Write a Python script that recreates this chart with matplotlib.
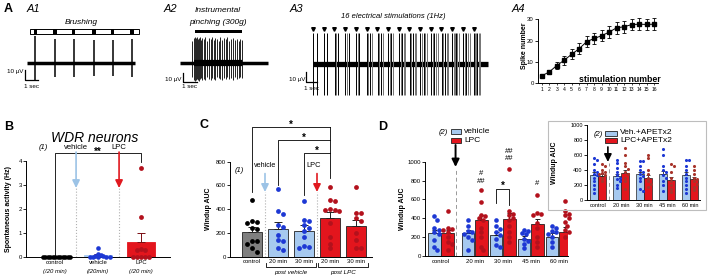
import numpy as np
import matplotlib
matplotlib.use('Agg')
import matplotlib.pyplot as plt
from matplotlib.patches import Rectangle

plt.rcParams['font.family'] = ['Liberation Sans', 'DejaVu Sans']
plt.rcParams['axes.linewidth'] = 0.7

W, H = 708, 278

# ---------------- data ----------------
# A1 brushing: spike times (s), peak amplitudes (uV)
a1_t = [0.62, 2.15, 3.6, 5.15, 6.6, 8.08]
a1_up = [27, 24, 24, 23, 23, 24]
a1_dn = [-17, -14, -14, -13, -13, -14]

# A2 instrumental pinching
a2_t = [0.95, 1.1, 1.17, 1.24, 1.3, 1.37, 1.45, 1.53, 1.62, 1.72,
        1.82, 1.95, 2.08, 2.2, 2.35, 2.48, 2.6, 2.72, 2.85, 2.97,
        3.1, 3.22, 3.38, 3.5, 3.62, 3.76, 3.9, 4.05, 4.2, 4.35,
        4.5, 4.62, 4.76]
a2_up = [22, 25, 26, 25, 26, 24, 25, 26, 23, 25,
         24, 26, 22, 25, 24, 26, 23, 25, 24, 22,
         26, 23, 25, 24, 26, 22, 24, 25, 23, 24,
         22, 24, 23]
a2_dn = [-14, -17, -18, -17, -16, -17, -18, -16, -15, -17,
         -16, -17, -14, -16, -17, -15, -16, -17, -14, -15,
         -16, -17, -15, -16, -14, -16, -15, -17, -14, -16,
         -15, -14, -15]

# A3 16 stimulations at 1 Hz
a3_stim = list(range(16))
a3_nspk = [2, 2, 3, 3, 3, 4, 4, 4, 5, 5, 5, 5, 5, 6, 6, 6]
a3_lat = [0.03, 0.33, 0.18, 0.5, 0.64, 0.25]

# A4 wind-up curve
a4_stim = list(range(1, 17))
a4_mean = [3.5, 5.3, 8.3, 10.8, 13.6, 16.2, 19.5, 21.0, 22.3, 24.0, 26.0, 26.5, 27.5, 27.7, 27.6, 27.7]
a4_sem = [0.7, 0.9, 1.6, 2.0, 2.4, 2.6, 2.6, 2.6, 2.6, 2.7, 2.7, 2.7, 2.7, 2.7, 2.7, 2.7]

# B spontaneous activity (Hz)
b_groups = ['control', 'vehicle', 'LPC']
b_sub = ['(/20 min)', '(/20min)', '(/20 min)']
b_mean = [0.0, 0.06, 0.62]
b_sem = [0.0, 0.04, 0.38]
b_ctrl = [0, 0, 0, 0, 0, 0, 0, 0, 0, 0, 0, 0]
b_veh = [0.35, 0.12, 0.08, 0.05, 0.03, 0, 0, 0, 0, 0]
b_lpc = [3.7, 1.65, 0.32, 0.3, 0.3, 0, 0, 0, 0, 0]

# C windup AUC
c_labels = ['control', '20 min', '30 min', '20 min', '30 min']
c_mean = [210, 237, 220, 330, 257]
c_sem = [38, 55, 45, 50, 52]
c_ctrl = [480, 300, 290, 280, 240, 230, 130, 130, 110, 70, 40]
c_veh20 = [570, 385, 360, 270, 250, 185, 140, 130, 70, 55]
c_veh30 = [470, 310, 300, 270, 240, 220, 170, 90, 80, 70]
c_lpc20 = [590, 480, 470, 400, 395, 390, 385, 280, 170, 110, 70]
c_lpc30 = [590, 370, 365, 330, 300, 200, 140, 75, 70]

# D windup AUC, vehicle vs LPC
d_labels = ['control', '20 min', '30 min', '45 min', '60 min']
d_veh_mean = [240, 240, 220, 185, 205]
d_veh_sem = [35, 35, 35, 30, 35]
d_lpc_mean = [240, 385, 395, 335, 258]
d_lpc_sem = [35, 50, 65, 55, 50]
d_veh_pts = [[420, 380, 300, 280, 250, 230, 170, 100, 60],
             [380, 320, 260, 250, 230, 200, 170, 60],
             [380, 320, 290, 250, 220, 180, 120, 100],
             [280, 270, 240, 230, 180, 160, 130, 80],
             [320, 300, 260, 250, 230, 200, 150, 100]]
d_lpc_pts = [[480, 300, 290, 280, 250, 200, 150, 130, 60],
             [700, 570, 440, 420, 400, 380, 300, 250, 200, 100, 60],
             [920, 480, 450, 430, 400, 380, 320, 250, 200, 150],
             [650, 460, 450, 440, 350, 300, 200, 150, 100],
             [580, 480, 450, 430, 400, 360, 320, 280, 250, 200]]

# D inset, with APETx2
e_veh_mean = [333, 320, 342, 342, 333]
e_veh_sem = [35, 30, 35, 40, 35]
e_lpc_mean = [320, 355, 298, 267, 280]
e_lpc_sem = [25, 45, 30, 35, 30]
e_veh_pts = [[560, 530, 480, 400, 380, 350, 330, 300, 260, 200, 150, 100],
             [540, 500, 430, 380, 330, 300, 280, 250, 200, 160],
             [520, 520, 450, 400, 380, 350, 320, 300, 260, 150, 120],
             [680, 600, 450, 400, 370, 330, 300, 250, 200, 120],
             [540, 530, 450, 400, 350, 300, 250, 200, 150, 100]]
e_lpc_pts = [[480, 450, 400, 380, 360, 350, 330, 300, 250],
             [700, 600, 500, 450, 420, 380, 350, 300, 250, 150],
             [600, 560, 400, 350, 300, 250, 220, 180],
             [480, 450, 370, 300, 250, 200, 150, 110],
             [450, 400, 350, 300, 280, 250, 220, 180, 130]]

BLUE_BAR, BLUE_DOT = '#a6c9ef', '#1d38d4'
RED_BAR, RED_DOT = '#e3151d', '#b3111c'

fig = plt.figure(figsize=(W / 100, H / 100), dpi=100)


def place(xlim, ylim, x0, sx, y0, sy):
    # x0/y0: pixel position of data 0, sx/sy: pixels per data unit
    left, right = x0 + xlim[0] * sx, x0 + xlim[1] * sx
    top, bottom = y0 - ylim[1] * sy, y0 - ylim[0] * sy
    ax = fig.add_axes([left / W, 1 - bottom / H, (right - left) / W, (bottom - top) / H])
    ax.set_xlim(xlim)
    ax.set_ylim(ylim)
    return ax


def ftext(x, y, s, **kw):
    fig.text(x / W, 1 - y / H, s, **kw)


def frect(x0, y0, x1, y1, **kw):
    fig.add_artist(Rectangle((x0 / W, 1 - y1 / H), (x1 - x0) / W, (y1 - y0) / H,
                             transform=fig.transFigure, **kw))


def style(ax, yticks, fs=4.3):
    for s in ['top', 'right']:
        ax.spines[s].set_visible(False)
    ax.spines['left'].set_bounds(yticks[0], yticks[-1])
    ax.set_yticks(yticks)
    ax.tick_params(axis='y', labelsize=fs, length=2, width=0.6, pad=1)
    ax.tick_params(axis='x', length=0, labelsize=fs, pad=2)


def swarm(vals, sx, sy, d):
    pts, offs = [], []
    for v in vals:
        y = v * sy
        for k in range(40):
            x = ((k + 1) // 2) * (1 if k % 2 else -1) * d * 0.5
            if all((x - px) ** 2 + (y - py) ** 2 >= d * d for px, py in pts):
                break
        pts.append((x, y))
        offs.append(x / sx)
    return np.array(offs)


def dots(ax, x, vals, color, sx, sy, d, s):
    ax.scatter(x + swarm(vals, sx, sy, d), vals, s=s, color=color, lw=0, zorder=4, clip_on=False)


def arrow(ax, x, y0, y1, color, lw=1.2):
    ax.annotate('', xy=(x, y1), xytext=(x, y0), annotation_clip=False,
                arrowprops=dict(arrowstyle='-|>,head_width=0.22,head_length=0.45',
                                color=color, lw=lw, shrinkA=0, shrinkB=0))


def scalebar(ax, x, y, w, h, lab_x, lab_y, sec_x, sec_y):
    ax.plot([x, x, x + w], [y + h, y, y], color='k', lw=0.9, clip_on=False)
    ax.text(lab_x, lab_y, '10 µV', ha='right', va='center', fontsize=4.5)
    ax.text(sec_x, sec_y, '1 sec', ha='center', va='center', fontsize=4.5)


# ---------------- A1 ----------------
axA1 = place((-27 / 13, 113 / 13), (-37, 63), 27, 13, 63, 1.0)
axA1.axis('off')
axA1.plot([0, 8.3], [0, 0], color='k', lw=2.5, solid_capstyle='butt')
axA1.vlines(a1_t, a1_dn, a1_up, color='k', lw=1.1)
axA1.add_patch(Rectangle((0.23, 29), 8.37, 5, fc='white', ec='k', lw=0.7))
for t in a1_t:
    axA1.add_patch(Rectangle((t - 0.12, 29), 0.24, 5, fc='k', lw=0))
axA1.text(4.2, 41, 'Brushing', style='italic', fontsize=6, ha='center', va='center')
scalebar(axA1, -0.15, -17, 1.0, 10, -0.3, -8, 0.35, -23)
ftext(4, 9, 'A', fontsize=9, weight='bold', va='center')
ftext(27, 9, 'A1', fontsize=8, style='italic', va='center')

# ---------------- A2 ----------------
axA2 = place((-40 / 13, 100 / 13), (-37, 63), 180, 13, 63, 1.0)
axA2.axis('off')
axA2.plot([0, 6.77], [0, 0], color='k', lw=2.5, solid_capstyle='butt')
axA2.plot([1.05, 4.8], [0, 0], color='k', lw=4.5, solid_capstyle='butt')
axA2.vlines(a2_t, a2_dn, a2_up, color='k', lw=0.6)
axA2.add_patch(Rectangle((1.15, 30), 3.62, 3.5, fc='k', lw=0))
axA2.text(2.9, 53, 'Instrumental', style='italic', fontsize=6, ha='center', va='center')
axA2.text(2.9, 41, 'pinching (300g)', style='italic', fontsize=6, ha='center', va='center')
scalebar(axA2, 0.23, -19, 1.05, 9, 0.08, -16, 0.7, -24)
ftext(164, 9, 'A2', fontsize=8, style='italic', va='center')

# ---------------- A3 ----------------
axA3 = place(((285 - 313) / 10.7, (500 - 313) / 10.7), (-36, 64), 313, 10.7, 64, 1.0)
axA3.axis('off')
axA3.plot([0, 16.35], [0, 0], color='k', lw=3.8, solid_capstyle='butt')
for t, n in zip(a3_stim, a3_nspk):
    for i, lat in enumerate(a3_lat[:n]):
        axA3.vlines(t + lat, -31, 31, color='k' if i < 2 else '0.45', lw=0.7)
axA3.plot(a3_stim, [35] * len(a3_stim), 'v', color='k', ms=2.6, clip_on=False)
axA3.text(7.5, 47, '16 electrical stimulations (1Hz)', style='italic', fontsize=5.5,
          ha='center', va='center')
scalebar(axA3, -0.65, -18, 1.0, 10, -0.75, -16, -0.1, -24)
ftext(290, 9, 'A3', fontsize=8, style='italic', va='center')

# ---------------- A4 ----------------
sx4 = (654 - 541.7) / 15
axA4 = place((0.5, 16.6), (0, 35), 541.7 - sx4, sx4, 83.3, 64 / 30)
style(axA4, [0, 10, 20, 30], fs=4.3)
axA4.errorbar(a4_stim, a4_mean, yerr=a4_sem, fmt='s-', color='k', ms=2.6, lw=0.7,
              elinewidth=0.6, capsize=1.5, capthick=0.6)
axA4.set_xticks(a4_stim)
axA4.tick_params(axis='x', length=1.5, width=0.5, labelsize=3.6, pad=1)
axA4.text(16.9, 2.0, 'stimulation number', weight='bold', fontsize=6.3, ha='right', va='center')
ftext(524, 46, 'Spike number', rotation=90, weight='bold', fontsize=5, ha='center', va='center')
ftext(512, 9, 'A4', fontsize=8, style='italic', va='center')

# ---------------- B ----------------
sxB, syB = 43, 24
axB = place((-0.67, 2.67), (0, 4.1), 55, sxB, 256.7, syB)
style(axB, [0, 1, 2, 3, 4])
axB.set_xticks([])
xb = np.arange(3)
axB.bar(xb, b_mean, 0.65, color=['k', BLUE_BAR, RED_BAR], edgecolor=['k', BLUE_BAR, RED_BAR],
        lw=0.6, zorder=2)
axB.errorbar(xb[1:], b_mean[1:], yerr=[[0, 0], b_sem[1:]], fmt='none', ecolor='#7a0d12',
             elinewidth=0.7, capsize=3, capthick=0.7, zorder=3)
dots(axB, 0, b_ctrl, 'k', sxB, syB, 2.5, 11)
dots(axB, 1, b_veh, BLUE_DOT, sxB, syB, 2.6, 11)
dots(axB, 2, b_lpc, RED_DOT, sxB, syB, 4.0, 12)
for x, l1, l2 in zip(xb, b_groups, b_sub):
    axB.text(x, -0.26, l1, ha='center', va='center', fontsize=4.3)
    axB.text(x, -0.6, l2, ha='center', va='center', fontsize=4.3, style='italic')
for x, lab, col in [(0.49, 'vehicle', '#9cc3e6'), (1.49, 'LPC', '#e0191f')]:
    axB.text(x, 4.55, lab, ha='center', va='center', fontsize=5.5)
    arrow(axB, x, 4.36, 2.86, col)
    axB.plot([x, x], [0, 2.86], ls=':', color='#b0b0b0', lw=0.8)
axB.text(-0.28, 4.53, '(1)', ha='center', va='center', fontsize=5.5, style='italic')
axB.plot([0, 0, 2, 2], [0.08, 4.32, 4.32, 3.95], color='k', lw=0.6, clip_on=False)
axB.text(1, 4.36, '**', ha='center', va='center', fontsize=7, weight='bold')
ftext(4, 127, 'B', fontsize=9, weight='bold', va='center')
ftext(95, 138, 'WDR neurons', fontsize=10, style='italic', ha='center', va='center')
ftext(9, 209, 'Spontaneous activity (Hz)', rotation=90, weight='bold', fontsize=5,
      ha='center', va='center')

# ---------------- C ----------------
sxC, syC = 26, 0.11875
axC = place((-0.85, 4.6), (0, 830), 252, sxC, 256.7, syC)
style(axC, [0, 200, 400, 600, 800])
xc = np.arange(5)
c_fc = ['#7f7f7f', BLUE_BAR, BLUE_BAR, RED_BAR, RED_BAR]
axC.bar(xc, c_mean, 0.77, color=c_fc, edgecolor='#222222', lw=0.6, zorder=2)
axC.errorbar(xc, c_mean, yerr=[[0] * 5, c_sem], fmt='none', ecolor='#222222',
             elinewidth=0.7, capsize=2.6, capthick=0.7, zorder=3)
for x, v, col in zip(xc, [c_ctrl, c_veh20, c_veh30, c_lpc20, c_lpc30],
                     ['k', BLUE_DOT, BLUE_DOT, RED_DOT, RED_DOT]):
    dots(axC, x, v, col, sxC, syC, 4.6, 12)
axC.set_xticks(xc)
axC.set_xticklabels(c_labels)
for a, b, lab in [(0.55, 2.45, 'post vehicle'), (2.55, 4.45, 'post LPC')]:
    axC.plot([a, a, b, b], [-55, -87, -87, -55], color='k', lw=0.6, clip_on=False)
    axC.text((a + b) / 2, -137, lab, ha='center', va='center', fontsize=4.5, style='italic')
axC.text(0.5, 772, 'vehicle', ha='center', va='center', fontsize=5.1)
axC.text(2.36, 772, 'LPC', ha='center', va='center', fontsize=5.3)
for x, col in [(0.5, '#9cc3e6'), (2.5, '#e0191f')]:
    arrow(axC, x, 700, 545, col)
    axC.plot([x, x], [0, 545], ls=':', color='#b0b0b0', lw=0.8)
axC.text(-0.5, 730, '(1)', ha='center', va='center', fontsize=5.5, style='italic')
for x0, ytop, yleg in [(0, 1092, 545), (1, 983, 603), (2, 873, 518)]:
    axC.plot([x0, x0, 3], [yleg, ytop, ytop], color='k', lw=0.6, clip_on=False)
    axC.text((x0 + 3) / 2, ytop + 20, '*', ha='center', va='center', fontsize=7, weight='bold')
axC.plot([3, 3], [1092, 661], color='k', lw=0.6, clip_on=False)
ftext(199, 125, 'C', fontsize=9, weight='bold', va='center')
ftext(208, 209, 'Windup AUC', rotation=90, weight='bold', fontsize=5, ha='center', va='center')

# ---------------- D ----------------
sxD, syD = 28, 0.0943
axD = place((-0.57, 4.54), (0, 1050), 441, sxD, 256, syD)
style(axD, [0, 200, 400, 600, 800, 1000])
xd = np.array([0, 1.2, 2.2, 3.2, 4.2])
bw = 0.46
axD.bar(xd - 0.235, d_veh_mean, bw, color=BLUE_BAR, edgecolor='#222222', lw=0.6, zorder=2)
axD.bar(xd + 0.235, d_lpc_mean, bw, color=RED_BAR, edgecolor='#222222', lw=0.6, zorder=2)
axD.errorbar(xd - 0.235, d_veh_mean, yerr=[[0] * 5, d_veh_sem], fmt='none', ecolor='#222222',
             elinewidth=0.7, capsize=1.8, capthick=0.7, zorder=3)
axD.errorbar(xd + 0.235, d_lpc_mean, yerr=[[0] * 5, d_lpc_sem], fmt='none', ecolor='#222222',
             elinewidth=0.7, capsize=1.8, capthick=0.7, zorder=3)
for x, vv, vl in zip(xd, d_veh_pts, d_lpc_pts):
    dots(axD, x - 0.235, vv, BLUE_DOT, sxD, syD, 4.3, 11)
    dots(axD, x + 0.235, vl, RED_DOT, sxD, syD, 4.3, 11)
axD.set_xticks(xd)
axD.set_xticklabels(d_labels)
arrow(axD, 0.52, 1177, 944, 'k', lw=1.4)
axD.plot([0.55, 0.55], [0, 912], ls='--', color='#999999', lw=0.7, dashes=(4, 3))
for x, y, s in [(1.435, 880, '#'), (1.435, 795, '##'), (2.435, 1103, '##'),
                (2.435, 1029, '##'), (3.435, 774, '#')]:
    axD.text(x, y, s, ha='center', va='center', fontsize=5.5, clip_on=False)
axD.plot([1.965, 1.965, 2.435, 2.435], [562, 710, 710, 541], color='k', lw=0.6)
axD.text(2.2, 745, '*', ha='center', va='center', fontsize=7, weight='bold')
ftext(378, 127, 'D', fontsize=9, weight='bold', va='center')
ftext(402, 209, 'Windup AUC', rotation=90, weight='bold', fontsize=5, ha='center', va='center')
ftext(443, 133, '(2)', fontsize=5.5, style='italic', ha='center', va='center')
frect(451, 129, 461, 134, fc=BLUE_BAR, ec='#222222', lw=0.6)
frect(451, 138, 461, 143, fc=RED_BAR, ec='#222222', lw=0.6)
ftext(464, 131.5, 'vehicle', fontsize=6, va='center')
ftext(464, 140.5, 'LPC', fontsize=6, va='center')

# ---------------- D inset ----------------
frect(548, 121, 706, 210, fc='none', ec='#bdbdbd', lw=0.8, zorder=1)
sxE, syE = 23, 0.075
axE = place((-0.48, 4.43), (0, 1020), 598, sxE, 200, syE)
axE.set_zorder(2)
axE.patch.set_visible(False)
style(axE, [0, 200, 400, 600, 800, 1000], fs=4)
xe = np.arange(5)
axE.bar(xe - 0.18, e_veh_mean, 0.36, color=BLUE_BAR, edgecolor='#222222', lw=0.5, zorder=2)
axE.bar(xe + 0.18, e_lpc_mean, 0.36, color=RED_BAR, edgecolor='#222222', lw=0.5, zorder=2)
axE.errorbar(xe - 0.18, e_veh_mean, yerr=[[0] * 5, e_veh_sem], fmt='none', ecolor='#222222',
             elinewidth=0.6, capsize=1.3, capthick=0.6, zorder=3)
axE.errorbar(xe + 0.18, e_lpc_mean, yerr=[[0] * 5, e_lpc_sem], fmt='none', ecolor='#222222',
             elinewidth=0.6, capsize=1.3, capthick=0.6, zorder=3)
for x, vv, vl in zip(xe, e_veh_pts, e_lpc_pts):
    dots(axE, x - 0.18, vv, BLUE_DOT, sxE, syE, 2.8, 5)
    dots(axE, x + 0.18, vl, '#a8342b', sxE, syE, 2.8, 5)
axE.set_xticks(xe)
axE.set_xticklabels(d_labels)
arrow(axE, 0.43, 707, 507, 'k', lw=1.2)
axE.plot([0.48, 0.48], [0, 490], ls='--', color='#999999', lw=0.7, dashes=(4, 3))
ftext(555, 163, 'Windup AUC', rotation=90, weight='bold', fontsize=5, ha='center', va='center',
      zorder=4)
ftext(598, 134, '(2)', fontsize=5.5, style='italic', ha='center', va='center', zorder=4)
frect(605, 130.5, 617, 135.5, fc=BLUE_BAR, ec='#222222', lw=0.6, zorder=4)
frect(605, 137.5, 617, 142.5, fc=RED_BAR, ec='#222222', lw=0.6, zorder=4)
ftext(620, 133, 'Veh.+APETx2', fontsize=6, va='center', zorder=4)
ftext(620, 140, 'LPC+APETx2', fontsize=6, va='center', zorder=4)

fig.savefig('out.png', dpi=100)
